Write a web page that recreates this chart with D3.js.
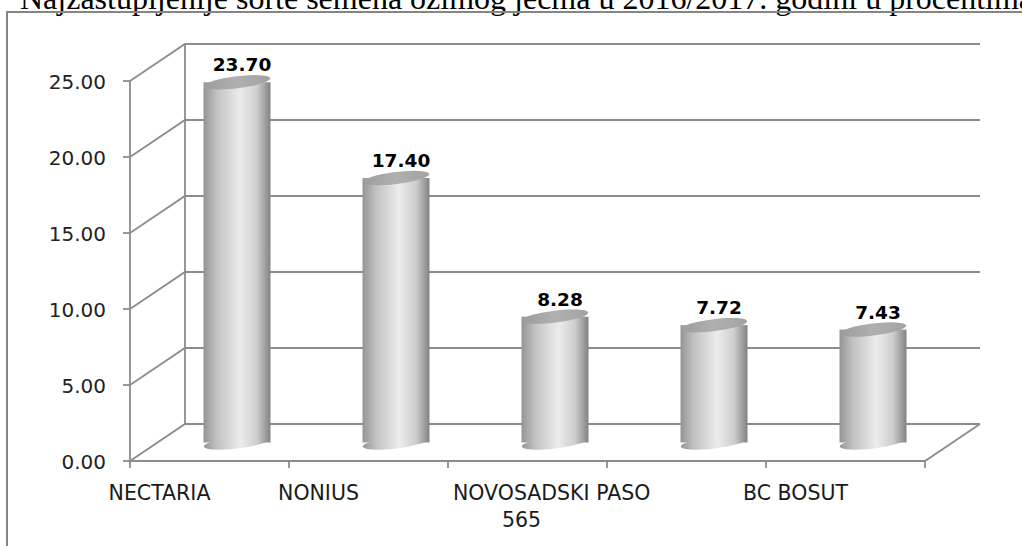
<!DOCTYPE html>
<html>
<head>
<meta charset="utf-8">
<script src="https://cdn.jsdelivr.net/npm/d3@7"></script>
<style>
  body { margin: 0; background: #fff; overflow: hidden; }
  svg { display: block; }
</style>
</head>
<body>
<div id="chart"></div>
<script>
const title = "Najzastupljenije sorte semena ozimog ječma u 2016/2017. godini u procentima";
const categories = ["NECTARIA", "NONIUS", "NOVOSADSKI PASO 565", "", "BC BOSUT"];
const values = [23.7, 17.4, 8.28, 7.72, 7.43];
const yTicks = [0, 5, 10, 15, 20, 25];

const width = 1022;
const height = 546;
// 3d depth offset of the back wall
const depth = { x: 55, y: -37 };
const plot = { left: 130, right: 925, top: 81, bottom: 461 };

const svg = d3.select("#chart").append("svg").attr("width", width).attr("height", height);

const xScale = d3.scaleBand().domain(d3.range(categories.length)).range([plot.left, plot.right]);
const yScale = d3.scaleLinear().domain([0, 25]).range([plot.bottom, plot.top]);

// gradients for the cylinders
const defs = svg.append("defs");
const bodyGrad = defs.append("linearGradient").attr("id", "body").attr("x1", 0).attr("x2", 1).attr("y1", 0).attr("y2", 0);
[
  [0, "#949494"],
  [0.2, "#c2c2c2"],
  [0.55, "#ececec"],
  [0.8, "#cdcdcd"],
  [1, "#828282"],
].forEach(([o, c]) => bodyGrad.append("stop").attr("offset", o).attr("stop-color", c));
const topGrad = defs.append("linearGradient").attr("id", "top").attr("x1", 0).attr("x2", 1).attr("y1", 0).attr("y2", 0);
[
  [0, "#9c9c9c"],
  [0.5, "#b0b0b0"],
  [1, "#a2a2a2"],
].forEach(([o, c]) => topGrad.append("stop").attr("offset", o).attr("stop-color", c));

// title (cut off at the top like the original)
svg
  .append("text")
  .attr("x", 20)
  .attr("y", 9)
  .attr("font-family", "Liberation Serif, Times New Roman, serif")
  .attr("font-size", 32)
  .attr("fill", "#000")
  .text(title);

// outer frame
svg.append("path").attr("d", `M7,${height} L7,12 L${width},12`).attr("fill", "none").attr("stroke", "#858585").attr("stroke-width", 2);

const grid = svg.append("g").attr("fill", "none").attr("stroke", "#8c8c8c").attr("stroke-width", 1.8);

// gridlines: side wall diagonal + back wall horizontal
yTicks.forEach((t) => {
  const y0 = yScale(t);
  grid
    .append("path")
    .attr("d", `M${plot.left},${y0} L${plot.left + depth.x},${y0 + depth.y} L${plot.right + depth.x},${y0 + depth.y}`);
});

// back wall left edge
grid
  .append("path")
  .attr("d", `M${plot.left + depth.x},${yScale(0) + depth.y} L${plot.left + depth.x},${yScale(25) + depth.y}`);

// floor front + right edge
grid
  .append("path")
  .attr("d", `M${plot.left},${plot.bottom} L${plot.right},${plot.bottom} L${plot.right + depth.x},${plot.bottom + depth.y}`);

// y axis (front)
grid.append("path").attr("d", `M${plot.left},${plot.bottom} L${plot.left},${plot.top}`);
yTicks.forEach((t) => {
  grid.append("path").attr("d", `M${plot.left - 7},${yScale(t)} L${plot.left},${yScale(t)}`);
});

// category ticks
d3.range(categories.length + 1).forEach((i) => {
  const xt = plot.left + i * xScale.bandwidth();
  grid.append("path").attr("d", `M${xt},${plot.bottom} L${xt},${plot.bottom + 7}`);
});

// y tick labels
svg
  .append("g")
  .selectAll("text")
  .data(yTicks)
  .join("text")
  .attr("x", 106)
  .attr("y", (d) => yScale(d) + 7.5)
  .attr("text-anchor", "end")
  .attr("font-family", "DejaVu Sans, Verdana, sans-serif")
  .attr("font-size", 20)
  .attr("fill", "#222")
  .text((d) => d3.format(".2f")(d));

// cylinders
const rx = 33.5;
const ry = 6;
const tilt = -7;
const bars = svg
  .append("g")
  .selectAll("g")
  .data(values)
  .join("g")
  .attr("transform", (d, i) => `translate(${xScale(i) + xScale.bandwidth() / 2 + depth.x / 2},0)`);

bars
  .append("ellipse")
  .attr("cx", 0)
  .attr("cy", yScale(0) + depth.y / 2)
  .attr("rx", rx)
  .attr("ry", ry)
  .attr("transform", `rotate(${tilt},0,${yScale(0) + depth.y / 2})`)
  .attr("fill", "url(#body)");

bars
  .append("rect")
  .attr("x", -rx)
  .attr("width", rx * 2)
  .attr("y", (d) => yScale(d) + depth.y / 2)
  .attr("height", (d) => yScale(0) - yScale(d))
  .attr("fill", "url(#body)");

bars
  .append("ellipse")
  .attr("cx", 0)
  .attr("cy", (d) => yScale(d) + depth.y / 2)
  .attr("rx", rx)
  .attr("ry", ry)
  .attr("transform", (d) => `rotate(${tilt},0,${yScale(d) + depth.y / 2})`)
  .attr("fill", "url(#top)");

// value labels
bars
  .append("text")
  .attr("x", 5)
  .attr("y", (d) => yScale(d) + depth.y / 2 - 11)
  .attr("text-anchor", "middle")
  .attr("font-family", "DejaVu Sans, Verdana, sans-serif")
  .attr("font-weight", "bold")
  .attr("font-size", 18.5)
  .attr("fill", "#000")
  .text((d) => d3.format(".2f")(d));

// category labels (long ones wrap onto a second line)
const catLabels = svg
  .append("g")
  .attr("font-family", "DejaVu Sans, Verdana, sans-serif")
  .attr("font-size", 20.5)
  .attr("fill", "#1a1a1a");

categories.forEach((label, i) => {
  if (!label) return;
  const start = xScale(i);
  const mid = start + xScale.bandwidth() / 2;
  if (label.length > 12) {
    const cut = label.lastIndexOf(" ");
    catLabels.append("text").attr("x", start + 5).attr("y", 500).text(label.slice(0, cut));
    catLabels
      .append("text")
      .attr("x", mid - 6)
      .attr("y", 527)
      .attr("text-anchor", "middle")
      .text(label.slice(cut + 1));
  } else {
    catLabels.append("text").attr("x", mid - 50).attr("y", 500).attr("text-anchor", "middle").text(label);
  }
});
</script>
</body>
</html>
